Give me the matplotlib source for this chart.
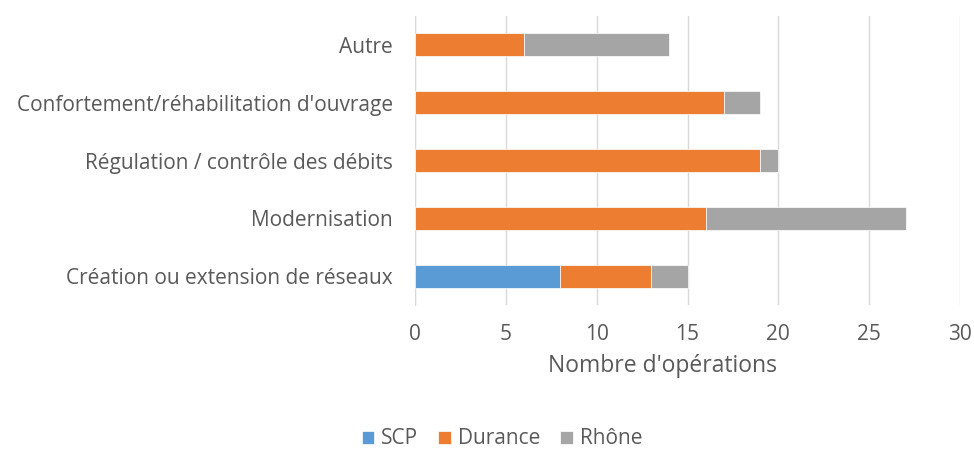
import numpy as np
import matplotlib
matplotlib.use('Agg')
import matplotlib.pyplot as plt

# Data (bottom to top)
categories = ['Création ou extension de réseaux', 'Modernisation',
              'Régulation / contrôle des débits',
              "Confortement/réhabilitation d'ouvrage", 'Autre']
scp = [8, 0, 0, 0, 0]
durance = [5, 16, 19, 17, 6]
rhone = [2, 11, 1, 2, 8]
series_names = ['SCP', 'Durance', 'Rhône']
colors = ['#5B9BD5', '#ED7D31', '#A5A5A5']
xticks = [0, 5, 10, 15, 20, 25, 30]

plt.rcParams['font.family'] = ['Open Sans', 'DejaVu Sans']
text_color = '#595959'

fig = plt.figure(figsize=(9.74, 4.53), dpi=100)
ax = fig.add_axes([415 / 974, 1 - 305 / 453, 545 / 974, 289 / 453])

y = np.arange(len(categories))
left = np.zeros(len(categories))
for name, vals, c in zip(series_names, [scp, durance, rhone], colors):
    vals = np.array(vals, dtype=float)
    ax.barh(y, vals, left=left, height=0.4, color=c, label=name,
            edgecolor='white', linewidth=0.5, zorder=3)
    left += vals

ax.set_xlim(0, 30)
ax.set_ylim(-0.5, len(categories) - 0.5)
ax.set_xticks(xticks)
ax.set_yticks(y)
ax.set_yticklabels(categories)
ax.tick_params(axis='both', length=0, colors=text_color, labelsize=15)
ax.tick_params(axis='y', pad=16)
ax.tick_params(axis='x', pad=14)
ax.grid(axis='x', color='#D9D9D9', linewidth=1, zorder=0)
for s in ['top', 'right', 'bottom']:
    ax.spines[s].set_visible(False)
ax.spines['left'].set_color('#D9D9D9')

fig.text(663 / 974, 1 - 372 / 453, "Nombre d'opérations", ha='center',
         va='baseline', fontsize=16.5, color=text_color)

handles, labels = ax.get_legend_handles_labels()
fig.legend(handles, labels, loc='center', bbox_to_anchor=(502 / 974, 1 - 439 / 453),
           ncol=3, frameon=False, fontsize=15, labelcolor=text_color,
           handlelength=0.6, handleheight=0.6, handletextpad=0.35,
           columnspacing=0.95, borderpad=0, borderaxespad=0)

fig.savefig('out.png', dpi=100)
